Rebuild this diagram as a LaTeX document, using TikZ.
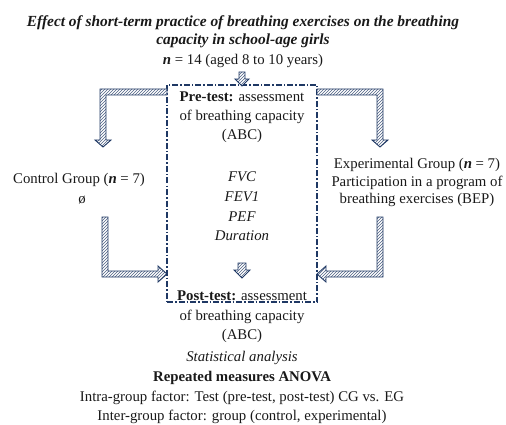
\documentclass[tikz,border=0pt]{standalone}
\usepackage{fontspec}
\setmainfont{Liberation Serif}
\usetikzlibrary{patterns}
\definecolor{navy}{RGB}{31,56,100}
\tikzset{
  txt/.style={anchor=base, inner sep=0pt, font=\fontsize{14.8}{17}\selectfont, text=black!90},
  ttl/.style={txt, font=\fontsize{15.4}{17}\selectfont\bfseries\itshape},
  fatarrow/.style={draw=navy, line width=0.9pt, line join=miter, preaction={fill=white}, pattern=north east lines, pattern color=navy!80},
  dashbox/.style={draw=navy, line width=1.2pt, dash pattern=on 6pt off 2pt on 1.5pt off 2pt, inner sep=0pt}
}
\begin{document}
\begin{tikzpicture}[x=1pt,y=-1pt]
\useasboundingbox (0,0) rectangle (506,425);
% title
\node[ttl] (t1) at (243,27) {Effect of short-term practice of breathing exercises on the breathing};
\node[ttl] (t2) at (243,45) {capacity in school-age girls};
\node[txt] (t3) at (243,65) {\textbf{\textit{n}} = 14 (aged 8 to 10 years)};
% box
\node[dashbox, minimum width=150pt, minimum height=217pt] (box) at (242,193.5) {};
% arrows
\draw[fatarrow] (239,72) -- (245,72) -- (245,79) -- (249,79) -- (242,86) -- (235,79) -- (239,79) -- cycle;
\draw[fatarrow] (238,263) -- (246,263) -- (246,270) -- (250,270) -- (242,278) -- (234,270) -- (238,270) -- cycle;
% upper left
\draw[fatarrow] (167,89) -- (100,89) -- (100,140) -- (95,140) -- (103,147) -- (111,140) -- (106,140) -- (106,95) -- (167,95) -- cycle;
% upper right
\draw[fatarrow] (317,89) -- (383,89) -- (383,140) -- (388,140) -- (380,147) -- (372,140) -- (377,140) -- (377,95) -- (317,95) -- cycle;
% lower left
\draw[fatarrow] (102,217) -- (108,217) -- (108,271) -- (158,271) -- (158,266) -- (167,274) -- (158,282) -- (158,277) -- (102,277) -- cycle;
% lower right
\draw[fatarrow] (383,217) -- (377,217) -- (377,271) -- (326,271) -- (326,266) -- (317,274) -- (326,282) -- (326,277) -- (383,277) -- cycle;
% box contents
\node[txt] (pre1) at (242,102) {\textbf{Pre-test:} assessment};
\node[txt] (pre2) at (242,121) {of breathing capacity};
\node[txt] (pre3) at (242,140) {(ABC)};
\node[txt] (m1) at (242,182) {\itshape FVC};
\node[txt] (m2) at (242,201) {\itshape FEV1};
\node[txt] (m3) at (242,221) {\itshape PEF};
\node[txt] (m4) at (242,240) {\itshape Duration};
\node[txt] (post1) at (242,300) {\textbf{Post-test:} assessment};
\node[txt] (post2) at (242,320) {of breathing capacity};
\node[txt] (post3) at (242,339) {(ABC)};
\node[txt] (s1) at (242,361) {\itshape Statistical analysis};
\node[txt] (s2) at (242,381) {\bfseries Repeated measures ANOVA};
\node[txt] (s3) at (242,401) {Intra-group factor: Test (pre-test, post-test) CG vs. EG};
\node[txt] (s4) at (242,420) {Inter-group factor: group (control, experimental)};
% side groups
\node[txt] (c1) at (79,183) {Control Group (\textbf{\textit{n}} = 7)};
\node[txt] (c2) at (82,203) {ø};
\node[txt] (e1) at (417,168) {Experimental Group (\textbf{\textit{n}} = 7)};
\node[txt] (e2) at (417,186) {Participation in a program of};
\node[txt] (e3) at (417,203) {breathing exercises (BEP)};
\end{tikzpicture}
\end{document}
